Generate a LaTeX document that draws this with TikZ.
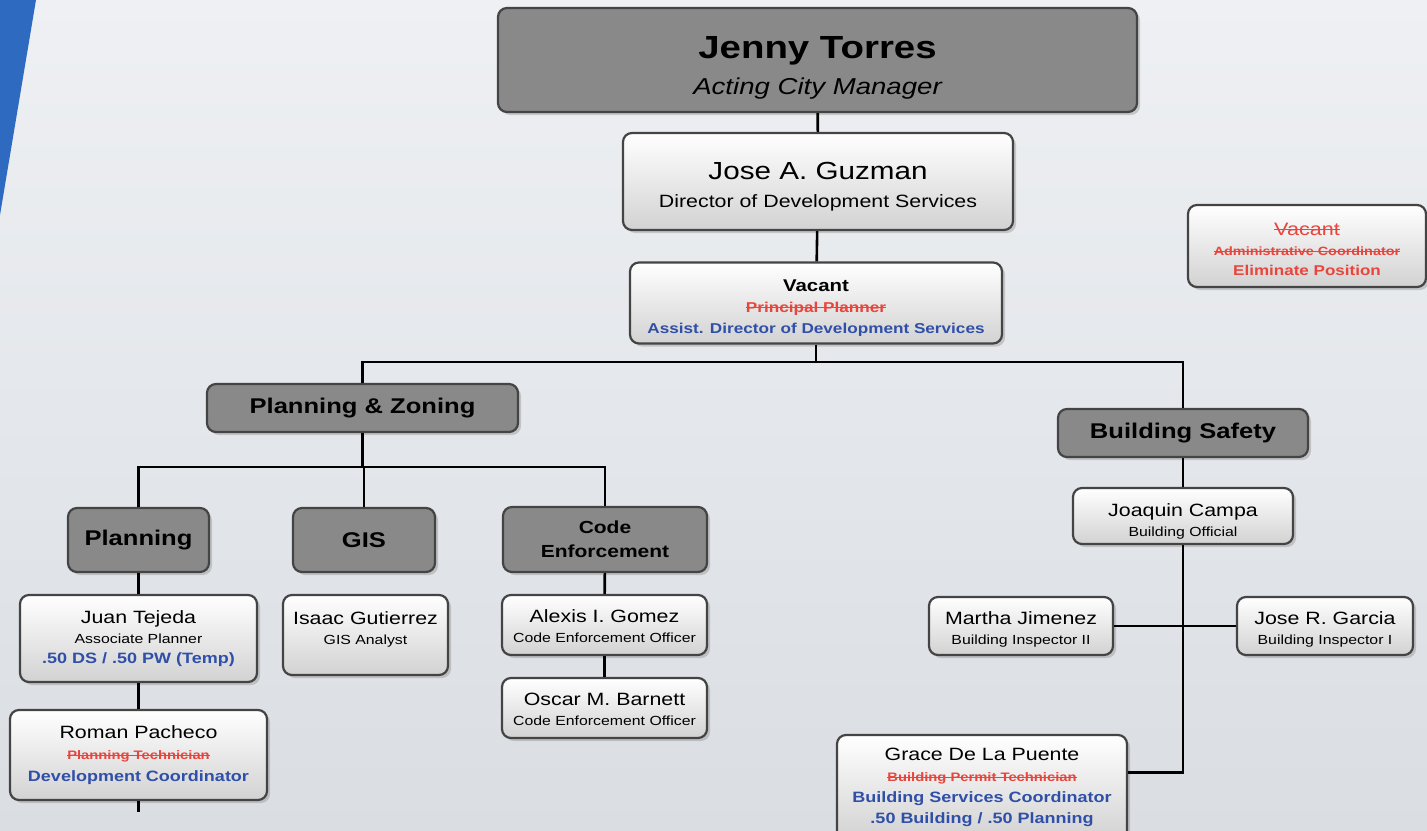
\documentclass[tikz,border=0pt]{standalone}
\usepackage{fontspec}
\setmainfont{Liberation Sans}[FakeStretch=1.2]
\usetikzlibrary{shadows}

\definecolor{darkfill}{HTML}{898989}
\definecolor{boxline}{HTML}{444444}
\definecolor{lightbot}{HTML}{D2D2D2}
\definecolor{txred}{HTML}{E8453C}
\definecolor{txblue}{HTML}{2F4FA8}
\definecolor{bandblue}{HTML}{2E6BC0}
\definecolor{bgtop}{HTML}{EEF0F3}
\definecolor{bgbot}{HTML}{DADEE3}

\newcommand\fs[2]{\fontsize{#1}{#2}\selectfont}
\newcommand\strk[1]{\leavevmode\setbox0\hbox{#1}\rlap{\rule[0.33em]{\wd0}{0.8pt}}\box0}
\newcommand\padtop[1]{\rule{0pt}{#1}}
\newcommand\padbot[1]{\rule[-#1]{0pt}{0pt}}

\tikzset{
  box/.style={draw=boxline, line width=2.2pt, rounded corners=9pt, align=center, inner sep=0pt,
    drop shadow={shadow xshift=3pt, shadow yshift=-3pt, opacity=0.35}},
  dark/.style={box, fill=darkfill},
  light/.style={box, top color=white, bottom color=lightbot},
  conn/.style={line width=2.6pt, black},
}

\begin{document}
\begin{tikzpicture}[x=1pt, y=-1pt]
    % Background
    \shade[top color=bgtop, bottom color=bgbot] (0,0) rectangle (1427,830);
    \fill[bandblue] (0,0) -- (36,0) -- (0,215) -- cycle;
    \useasboundingbox (0,0) rectangle (1427,830);

    % Top
    \node[dark, minimum width=639pt, minimum height=104pt, font=\fs{23}{36}] (jt) at (817.5,60)
        {\padtop{37pt}{\fs{32}{36}\bfseries Jenny Torres}\\\itshape Acting City Manager};
    \node[light, minimum width=390pt, minimum height=97pt, font=\fs{17.8}{28}] (dir) at (818,181.5)
        {\padtop{28pt}{\fs{24.7}{28}Jose A. Guzman}\\Director of Development Services};
    \node[light, minimum width=372pt, minimum height=81pt, font=\fs{14.3}{21}\bfseries] (apd) at (816,303)
        {\padtop{22pt}{\fs{17}{21}Vacant}\\{\color{txred}\strk{Principal Planner}}\\{\color{txblue}Assist. Director of Development Services}};
    \node[light, minimum width=238pt, minimum height=82pt, font=\fs{12}{20}\bfseries, text=txred] (adm) at (1307,246)
        {\padtop{19pt}{\fs{18}{20}\mdseries\strk{Vacant}}\\\strk{Administrative Coordinator}\\{\fs{14.2}{20}Eliminate Position}};

    % Divisions
    \node[dark, minimum width=311pt, minimum height=48pt, font=\fs{21.3}{24}\bfseries] (pz) at (362.5,408) {Planning \& Zoning};
    \node[dark, minimum width=250pt, minimum height=48pt, font=\fs{21.3}{24}\bfseries] (bs) at (1183,433) {Building Safety};
    \node[dark, minimum width=141pt, minimum height=64pt, font=\fs{21.3}{24}\bfseries] (pl) at (138.5,540) {Planning};
    \node[dark, minimum width=142pt, minimum height=64pt, font=\fs{21.3}{24}\bfseries] (gis) at (364,540) {GIS};
    \node[dark, minimum width=204pt, minimum height=65pt, font=\fs{17.5}{24}\bfseries] (ce) at (605,539.5) {Code\\Enforcement};

    % Staff
    \node[light, minimum width=237pt, minimum height=87pt, font=\fs{13.2}{20}] (jtj) at (138.5,638.5)
        {{\fs{17.8}{20}Juan Tejeda}\\Associate Planner\\{\fs{15}{20}\bfseries\color{txblue}.50 DS / .50 PW (Temp)}};
    \node[light, minimum width=165pt, minimum height=80pt, font=\fs{13.2}{20}] (igz) at (365.5,635)
        {{\fs{17.8}{20}Isaac Gutierrez}\\GIS Analyst\padbot{13pt}};
    \node[light, minimum width=257pt, minimum height=90pt, font=\fs{12.3}{21.5}] (rpc) at (138.5,755)
        {{\fs{17.8}{21.5}Roman Pacheco}\\{\bfseries\color{txred}\strk{Planning Technician}}\\{\fs{15}{21.5}\bfseries\color{txblue}Development Coordinator}};
    \node[light, minimum width=205pt, minimum height=60pt, font=\fs{13.2}{20}] (agm) at (604.5,625)
        {\padtop{16pt}{\fs{17.8}{20}Alexis I. Gomez}\\Code Enforcement Officer};
    \node[light, minimum width=205pt, minimum height=60pt, font=\fs{13.2}{20}] (omb) at (604.5,708)
        {\padtop{16pt}{\fs{17.8}{20}Oscar M. Barnett}\\Code Enforcement Officer};
    \node[light, minimum width=220pt, minimum height=56pt, font=\fs{13.2}{20}] (jcp) at (1183,516)
        {\padtop{23pt}{\fs{17.8}{20}Joaquin Campa}\\Building Official};
    \node[light, minimum width=184pt, minimum height=58pt, font=\fs{13.2}{20}] (mjz) at (1021,626)
        {\padtop{19pt}{\fs{17.8}{20}Martha Jimenez}\\Building Inspector II};
    \node[light, minimum width=176pt, minimum height=58pt, font=\fs{13.2}{20}] (jrg) at (1325,626)
        {\padtop{19pt}{\fs{17.8}{20}Jose R. Garcia}\\Building Inspector I};
    \node[light, minimum width=290pt, minimum height=105pt, font=\fs{15}{21}\bfseries] (gdp) at (982,787.5)
        {{\fs{17.8}{21}\mdseries Grace De La Puente}\\{\fs{12.3}{21}\color{txred}\strk{Building Permit Technician}}\\{\color{txblue}Building Services Coordinator}\\{\color{txblue}.50 Building / .50 Planning}};

    % Connectors
    \coordinate (bus) at (818,362);
    \coordinate (sbus) at (364,467);
    \coordinate (stub) at (138.5,812);
    \draw[conn] (jt) -- (dir);
    \draw[conn] (dir) -- (apd);
    \draw[conn] (apd.south) -- (apd.south |- bus);
    \draw[conn] (pz.north) |- (bs.north |- bus) -- (bs.north);
    \draw[conn] (pz.south) -- (pz.south |- sbus);
    \draw[conn] (pl.north) |- (ce.north |- sbus) -- (ce.north);
    \draw[conn] (gis.north) -- (gis.north |- sbus);
    \draw[conn] (pl) -- (jtj);
    \draw[conn] (jtj) -- (rpc);
    \draw[conn] (rpc.south) -- (stub);
    \draw[conn] (ce) -- (agm);
    \draw[conn] (agm) -- (omb);
    \draw[conn] (bs) -- (jcp);
    \draw[conn] (jcp.south) |- ([yshift=15pt]gdp.east);
    \draw[conn] (mjz) -- (jrg);
\end{tikzpicture}
\end{document}
